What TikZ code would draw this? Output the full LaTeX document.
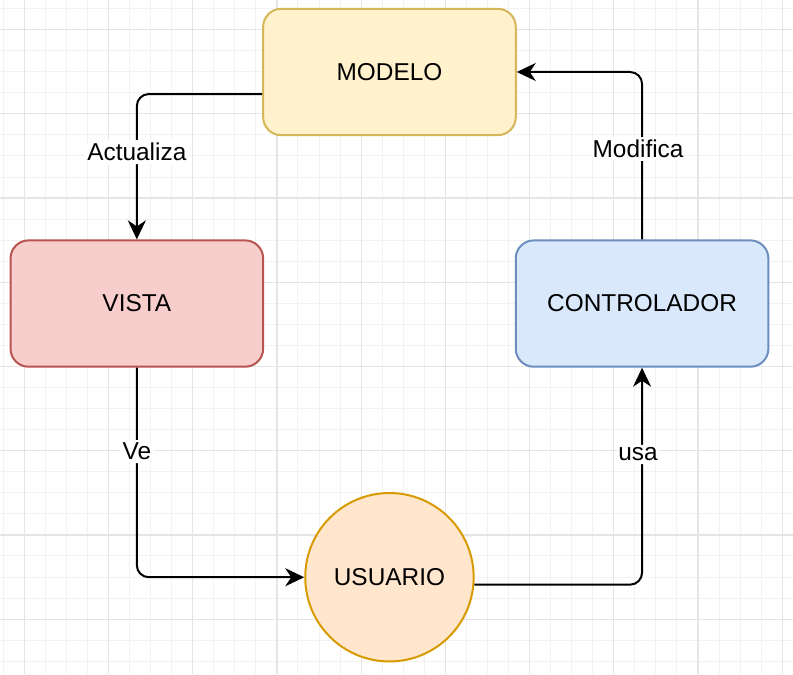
\documentclass[tikz,border=0pt]{standalone}
\usepackage{fontspec}
\setmainfont{Liberation Sans}
\usetikzlibrary{arrows.meta}

\definecolor{modelofill}{HTML}{FFF2CC}
\definecolor{modelodraw}{HTML}{D6B656}
\definecolor{vistafill}{HTML}{F8CECC}
\definecolor{vistadraw}{HTML}{B85450}
\definecolor{ctrlfill}{HTML}{DAE8FC}
\definecolor{ctrldraw}{HTML}{6C8EBF}
\definecolor{userfill}{HTML}{FFE6CC}
\definecolor{userdraw}{HTML}{D79B00}

\begin{document}
\begin{tikzpicture}[x=0.37cm, y=0.37cm,
    every node/.style={font=\fontsize{12.2}{14}\selectfont},
    box/.style={draw, line width=1pt, rounded corners=9pt, minimum width=4.44cm, minimum height=2.22cm},
    link/.style={line width=1pt, rounded corners=6pt, -{Stealth[length=9.5pt, width=9pt, inset=3pt]}},
    lbl/.style={fill=white, inner sep=1.5pt}]
    \useasboundingbox (0,0) rectangle (37.67,32.02);

    % cuadricula
    \foreach \i in {0,...,37} \draw[black!5, line width=0.5pt] (\i+0.154,0) -- (\i+0.154,32.02);
    \foreach \j in {0,...,31} \draw[black!5, line width=0.5pt] (0,\j+0.61) -- (37.67,\j+0.61);
    \foreach \i in {0,...,9} \draw[black!10, line width=0.6pt] (4*\i+1.154,0) -- (4*\i+1.154,32.02);
    \foreach \j in {0,...,7} \draw[black!10, line width=0.6pt] (0,4*\j+2.61) -- (37.67,4*\j+2.61);

    % nodos
    \node[box, fill=modelofill, draw=modelodraw] (modelo) at (18.5,28.6) {MODELO};
    \node[box, fill=vistafill, draw=vistadraw] (vista) at (6.5,17.6) {VISTA};
    \node[box, fill=ctrlfill, draw=ctrldraw] (controlador) at (30.5,17.6) {CONTROLADOR};
    \node[circle, draw=userdraw, fill=userfill, line width=1pt, minimum size=2.96cm] (usuario) at (18.5,4.6) {USUARIO};

    % conexiones
    \draw[link] (modelo.south west) ++(0,2) -| (vista.north) node[lbl, pos=0.7] (actualiza) {Actualiza};
    \draw[link] (controlador.north) |- (modelo.east) node[lbl, pos=0.27, xshift=-2pt] (modifica) {Modifica};
    \draw[link] (vista.south) |- (usuario.west) node[lbl, pos=0.2] (ve) {Ve};
    \draw[link] (usuario.-5) -| (controlador.south) node[lbl, pos=0.8, xshift=-2pt] (usa) {usa};
\end{tikzpicture}
\end{document}
